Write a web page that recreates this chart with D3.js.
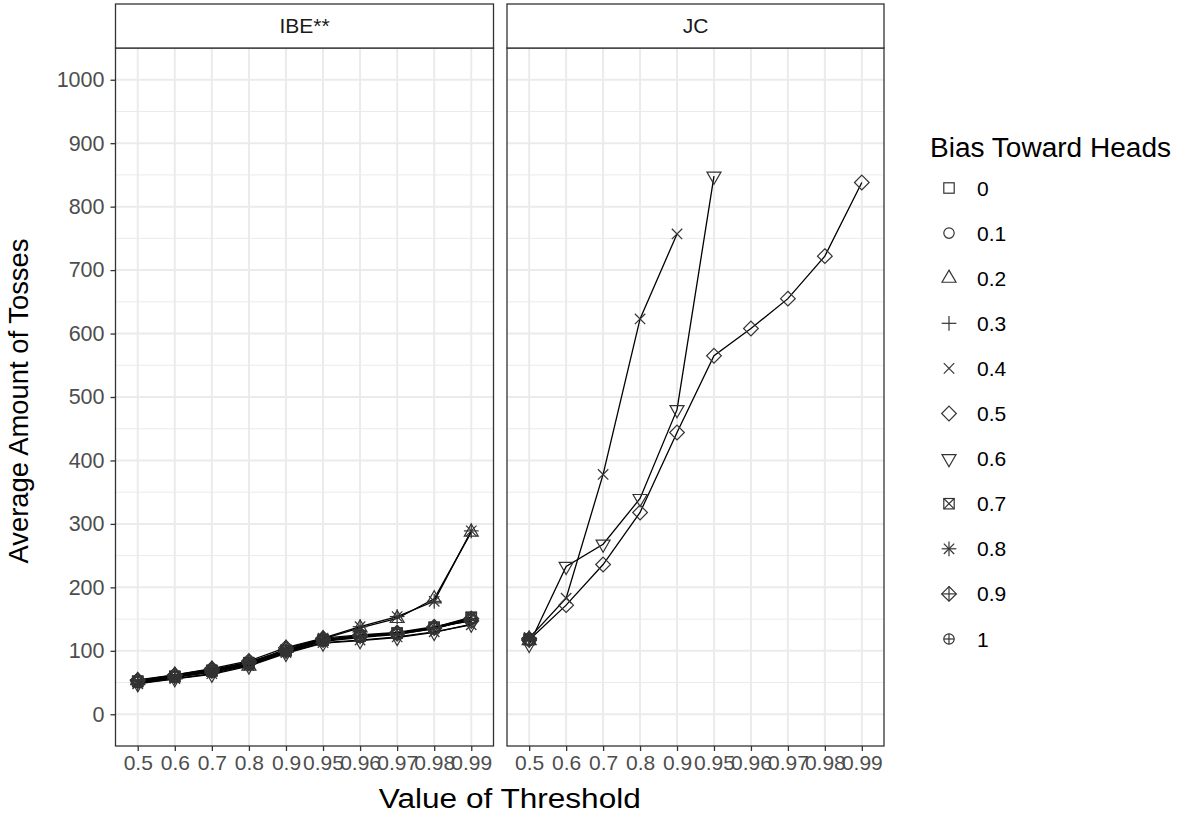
<!DOCTYPE html>
<html>
<head>
<meta charset="utf-8">
<script src="https://cdn.jsdelivr.net/npm/d3@7"></script>
<style>
  body { margin: 0; background: #fff; }
  svg { display: block; font-family: "Liberation Sans", Arial, Helvetica, sans-serif; }
</style>
</head>
<body>
<div id="chart"></div>
<script>
// categories on the x axis (discrete thresholds)
var thresholds = ["0.5", "0.6", "0.7", "0.8", "0.9", "0.95", "0.96", "0.97", "0.98", "0.99"];

// legend levels, one shape each (R pch 0..10)
var biasLevels = ["0", "0.1", "0.2", "0.3", "0.4", "0.5", "0.6", "0.7", "0.8", "0.9", "1"];

// facet names
var methods = ["IBE**", "JC"];

// average tosses, IBE** panel, one row per bias level
var ibeTosses = [
  [52, 59, 68, 80, 100, 117, 123, 128, 137, 152],
  [50, 58, 66, 78, 98, 115, 121, 126, 135, 150],
  [53, 62, 71, 76, 104, 119, 136, 151, 182, 287],
  [51, 59, 67, 79, 99, 116, 122, 127, 136, 148],
  [49, 56, 64, 77, 97, 113, 117, 122, 130, 141],
  [54, 62, 72, 84, 105, 120, 125, 129, 138, 147],
  [48, 56, 63, 76, 96, 112, 116, 121, 129, 142],
  [52, 60, 69, 81, 101, 117, 124, 128, 137, 153],
  [48, 58, 70, 82, 99, 120, 138, 154, 178, 289],
  [53, 61, 70, 82, 102, 118, 124, 127, 136, 151],
  [51, 59, 68, 80, 100, 116, 123, 126, 135, 150]
];

// average tosses, JC panel (null = no value at that threshold)
var jcTosses = [
  [118, null, null, null, null, null, null, null, null, null],
  [117, null, null, null, null, null, null, null, null, null],
  [116, null, null, null, null, null, null, null, null, null],
  [119, null, null, null, null, null, null, null, null, null],
  [120, 183, 378, 623, 757, null, null, null, null, null],
  [117, 172, 236, 318, 444, 565, 608, 655, 722, 838],
  [110, 233, 268, 340, 480, 848, null, null, null, null],
  [118, null, null, null, null, null, null, null, null, null],
  [121, null, null, null, null, null, null, null, null, null],
  [119, null, null, null, null, null, null, null, null, null],
  [118, null, null, null, null, null, null, null, null, null]
];

var yTicks = [0, 100, 200, 300, 400, 500, 600, 700, 800, 900, 1000];
var yMinor = [50, 150, 250, 350, 450, 550, 650, 750, 850, 950];

var width = 1181, height = 816;
var panelTop = 48, panelBottom = 746, stripTop = 4;
var panels = [
  {name: methods[0], x0: 115.5, x1: 493.5, data: ibeTosses},
  {name: methods[1], x0: 507, x1: 884, data: jcTosses}
];

var tickFont = 21;
var titleFont = 27;
var textCol = "#4D4D4D";
var R = 5.2;

var svg = d3.select("#chart").append("svg")
    .attr("width", width)
    .attr("height", height);

var y = d3.scaleLinear().domain([-50, 1050]).range([panelBottom, panelTop]);

// draws an R style point symbol (pch 0..10) into a group
function drawShape(g, k) {
  var s2 = Math.SQRT2 * R;
  var t0 = 1.5551 * R, t1 = 1.3468 * R, t2 = 0.7776 * R;
  function line(x1, y1, x2, y2) {
    g.append("line").attr("x1", x1).attr("y1", y1).attr("x2", x2).attr("y2", y2);
  }
  function plus(c) { line(-c, 0, c, 0); line(0, -c, 0, c); }
  function cross(c) { line(-c, -c, c, c); line(-c, c, c, -c); }
  function diamond() {
    g.append("polygon").attr("points", [[0, -s2], [s2, 0], [0, s2], [-s2, 0]].join(" "));
  }
  if (k == 0 || k == 7) {
    g.append("rect").attr("x", -R).attr("y", -R).attr("width", 2 * R).attr("height", 2 * R);
    if (k == 7) cross(R);
  }
  else if (k == 1 || k == 10) {
    g.append("circle").attr("r", R);
    if (k == 10) plus(R);
  }
  else if (k == 2) {
    g.append("polygon").attr("points", [[0, -t0], [t1, t2], [-t1, t2]].join(" "));
  }
  else if (k == 6) {
    g.append("polygon").attr("points", [[0, t0], [t1, -t2], [-t1, -t2]].join(" "));
  }
  else if (k == 3) plus(s2);
  else if (k == 4) cross(R);
  else if (k == 5 || k == 9) {
    diamond();
    if (k == 9) plus(s2);
  }
  else if (k == 8) { cross(R); plus(s2); }
}

panels.forEach(function(p, pi) {
  var x = d3.scalePoint().domain(thresholds).range([p.x0, p.x1]).padding(0.6);

  var grid = svg.append("g");
  grid.selectAll(".minor").data(yMinor).enter().append("line")
      .attr("x1", p.x0).attr("x2", p.x1)
      .attr("y1", function(d) { return y(d); }).attr("y2", function(d) { return y(d); })
      .attr("stroke", "#EBEBEB").attr("stroke-width", 1);
  grid.selectAll(".major").data(yTicks).enter().append("line")
      .attr("x1", p.x0).attr("x2", p.x1)
      .attr("y1", function(d) { return y(d); }).attr("y2", function(d) { return y(d); })
      .attr("stroke", "#EBEBEB").attr("stroke-width", 2);
  grid.selectAll(".vmajor").data(thresholds).enter().append("line")
      .attr("x1", function(d) { return x(d); }).attr("x2", function(d) { return x(d); })
      .attr("y1", panelTop).attr("y2", panelBottom)
      .attr("stroke", "#EBEBEB").attr("stroke-width", 2);

  // lines first, then points
  var lineGen = d3.line()
      .defined(function(d) { return d != null; })
      .x(function(d, i) { return x(thresholds[i]); })
      .y(function(d) { return y(d); });

  p.data.forEach(function(series) {
    svg.append("path")
        .attr("d", lineGen(series))
        .attr("fill", "none")
        .attr("stroke", "#000")
        .attr("stroke-width", 1.3);
  });

  p.data.forEach(function(series, k) {
    series.forEach(function(v, i) {
      if (v == null) return;
      var g = svg.append("g")
          .attr("transform", "translate(" + x(thresholds[i]) + "," + y(v) + ")")
          .attr("fill", "none").attr("stroke", "#333").attr("stroke-width", 1.2);
      drawShape(g, k);
    });
  });

  // panel border
  svg.append("rect")
      .attr("x", p.x0).attr("y", panelTop)
      .attr("width", p.x1 - p.x0).attr("height", panelBottom - panelTop)
      .attr("fill", "none").attr("stroke", "#333").attr("stroke-width", 1.3);

  // strip
  svg.append("rect")
      .attr("x", p.x0).attr("y", stripTop)
      .attr("width", p.x1 - p.x0).attr("height", panelTop - stripTop)
      .attr("fill", "#fff").attr("stroke", "#333").attr("stroke-width", 1.3);
  svg.append("text")
      .attr("x", (p.x0 + p.x1) / 2).attr("y", 33)
      .attr("text-anchor", "middle")
      .attr("font-size", tickFont).attr("fill", "#1A1A1A")
      .text(p.name);

  // x axis
  var xAxis = svg.append("g")
      .attr("transform", "translate(0," + panelBottom + ")")
      .call(d3.axisBottom(x).tickSize(5).tickPadding(4));
  xAxis.select(".domain").remove();
  xAxis.selectAll("line").attr("stroke", "#333").attr("stroke-width", 1.3);
  xAxis.selectAll("text").attr("font-size", tickFont).attr("fill", textCol)
      .attr("font-family", "Liberation Sans, Arial, sans-serif");

  // y axis only on the first panel
  if (pi == 0) {
    var yAxis = svg.append("g")
        .attr("transform", "translate(" + p.x0 + ",0)")
        .call(d3.axisLeft(y).tickValues(yTicks).tickFormat(d3.format("d")).tickSize(5).tickPadding(6));
    yAxis.select(".domain").remove();
    yAxis.selectAll("line").attr("stroke", "#333").attr("stroke-width", 1.3);
    yAxis.selectAll("text").attr("font-size", tickFont + 0.5).attr("fill", textCol)
        .attr("font-family", "Liberation Sans, Arial, sans-serif");
  }
});

// axis titles (text widths stretched to the reference)
svg.append("text")
    .attr("x", (panels[0].x0 + panels[1].x1) / 2 + 10).attr("y", 808)
    .attr("text-anchor", "middle")
    .attr("font-size", titleFont).attr("fill", "#000")
    .attr("textLength", 262).attr("lengthAdjust", "spacingAndGlyphs")
    .text("Value of Threshold");

svg.append("text")
    .attr("transform", "translate(28," + ((panelTop + panelBottom) / 2 + 4) + ") rotate(-90)")
    .attr("text-anchor", "middle")
    .attr("font-size", titleFont).attr("fill", "#000")
    .attr("textLength", 325).attr("lengthAdjust", "spacingAndGlyphs")
    .text("Average Amount of Tosses");

// legend
var legend = svg.append("g");
legend.append("text")
    .attr("x", 930).attr("y", 157)
    .attr("font-size", titleFont).attr("fill", "#000")
    .attr("textLength", 241).attr("lengthAdjust", "spacingAndGlyphs")
    .text("Bias Toward Heads");

biasLevels.forEach(function(b, k) {
  var cy = 188 + k * 45.1;
  var g = legend.append("g")
      .attr("transform", "translate(949," + cy + ")")
      .attr("fill", "none").attr("stroke", "#333").attr("stroke-width", 1.2);
  drawShape(g, k);
  legend.append("text")
      .attr("x", 977).attr("y", cy + 7.5)
      .attr("font-size", tickFont).attr("fill", "#000")
      .text(b);
});
</script>
</body>
</html>
